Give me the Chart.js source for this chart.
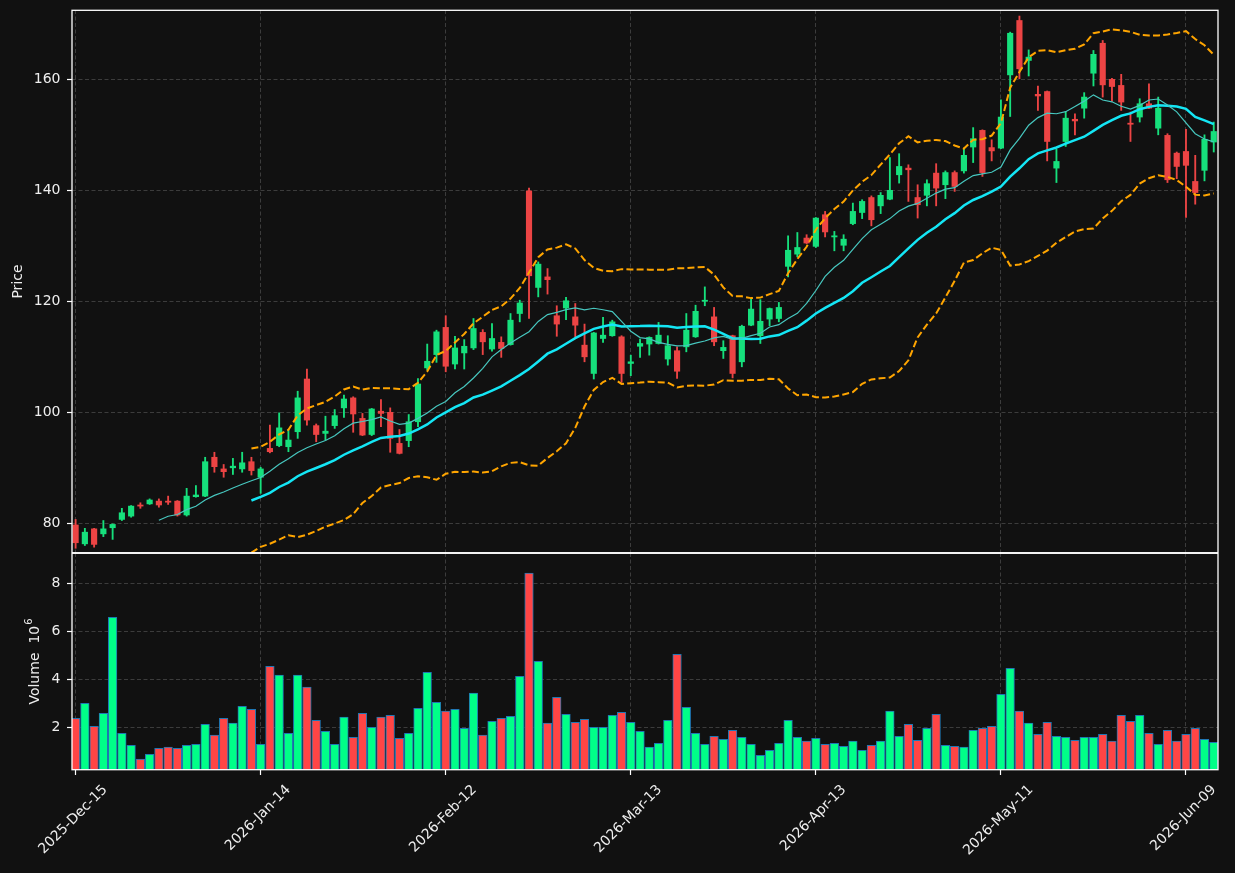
<!DOCTYPE html>
<html><head><meta charset="utf-8">
<script src="https://cdn.jsdelivr.net/npm/chart.js@4.4.1/dist/chart.umd.min.js"></script>
<style>
html,body{margin:0;padding:0;background:#111111;}
#wrap{position:relative;width:1235px;height:873px;background:#111111;overflow:hidden;}
#c1{position:absolute;left:0;top:0;}
#c2{position:absolute;left:0;top:553px;}
</style></head><body>
<div id="wrap"><canvas id="c1" width="1235" height="553"></canvas><canvas id="c2" width="1235" height="320"></canvas></div>
<script>
// ---- data ----
const startDate = '2025-12-15';
const holidays = ['2025-12-25','2026-01-01','2026-01-19','2026-02-16','2026-04-03','2026-05-25'];
const tickIdx = [0, 20, 40, 60, 80, 100, 120];
const tickLabels = ['2025-Dec-15','2026-Jan-14','2026-Feb-12','2026-Mar-13','2026-Apr-13','2026-May-11','2026-Jun-09'];
const priceTicks = [80, 100, 120, 140, 160];
const volTicks = [2, 4, 6, 8];

const open = [79.7,76.3,79.0,78.1,79.2,80.7,81.3,83.3,83.5,84.0,
84.0,84.0,81.5,84.8,84.9,91.9,89.8,90.0,89.8,91.1,
88.3,93.5,94.0,93.8,96.5,106.0,97.6,96.2,97.6,100.8,
102.6,98.9,96.0,100.2,100.0,94.4,94.9,98.3,108.0,110.4,
115.3,108.7,110.7,111.6,114.4,111.4,112.6,112.2,117.8,139.9,
122.5,124.4,117.4,118.8,117.2,112.1,107.0,113.3,113.8,113.6,
108.8,111.9,112.3,112.4,109.6,111.1,111.8,113.6,120.0,117.2,
111.1,113.8,109.1,115.7,113.8,116.8,116.9,126.3,128.5,131.4,
129.9,135.6,131.6,130.1,134.0,136.0,138.7,137.2,138.4,142.8,
144.0,138.7,139.1,143.1,141.0,143.2,143.5,147.8,150.8,147.7,
147.6,160.8,170.6,163.4,157.3,157.8,144.0,148.8,152.8,154.8,
161.1,166.5,160.0,158.9,152.1,153.2,155.6,151.2,149.9,146.7,
147.0,141.6,143.6,148.7];
const high = [80.7,79.1,79.1,80.5,79.9,82.7,83.2,83.7,84.4,84.4,
84.9,84.1,86.3,86.8,91.9,92.8,90.6,91.7,92.8,91.9,
90.1,97.7,99.9,96.9,103.8,107.8,97.9,99.3,100.5,103.1,
102.8,99.8,100.7,102.3,100.8,96.9,99.6,106.1,112.3,114.8,
117.4,113.7,113.1,116.9,114.9,116.0,113.6,117.8,120.2,140.4,
127.1,125.9,119.2,120.7,119.6,115.9,114.4,117.1,116.6,113.8,
110.3,113.2,113.6,116.2,113.8,111.8,117.8,119.3,122.6,118.9,
112.9,113.9,115.7,120.5,120.3,118.8,119.8,131.8,132.4,132.0,
135.1,136.2,132.6,132.0,137.7,138.3,139.0,139.6,145.9,146.6,
144.6,141.0,141.9,144.8,143.5,143.5,147.5,151.3,150.9,149.1,
156.3,168.5,171.4,165.3,158.8,157.9,147.4,154.2,153.8,157.6,
165.2,167.0,160.2,160.9,154.1,156.5,159.2,156.8,150.2,146.9,
151.0,146.3,150.0,152.3];
const low = [75.5,76.0,75.7,77.6,77.1,80.5,81.1,82.7,83.4,82.9,
83.4,81.3,81.3,84.7,84.8,89.2,88.3,88.8,89.2,88.7,
85.4,92.7,93.8,92.9,95.3,97.7,94.7,95.0,97.1,99.1,
96.4,95.8,95.8,97.4,92.8,92.5,93.8,97.4,107.6,109.0,
107.3,107.8,107.8,111.3,110.4,111.0,109.9,112.1,116.3,116.9,
120.8,121.3,113.7,116.7,113.6,109.1,106.0,112.6,113.7,105.4,
106.6,109.9,110.3,112.3,108.5,106.1,110.9,113.5,119.2,112.0,
109.7,106.2,108.2,115.6,112.4,115.6,116.3,124.4,128.0,130.4,
129.7,131.6,129.1,129.1,133.8,134.9,133.6,135.8,138.3,141.3,
138.0,135.0,137.2,137.2,138.5,139.8,143.1,145.0,142.5,145.3,
147.5,153.3,160.1,160.6,154.4,145.3,141.4,147.9,150.0,153.0,
158.8,156.8,156.0,154.4,148.8,152.3,154.7,150.0,141.4,142.1,
135.1,137.5,141.7,146.9];
const close = [76.5,78.4,76.2,79.0,79.8,81.9,83.1,83.1,84.2,83.3,
83.8,81.5,84.9,85.1,91.1,90.2,89.3,90.3,90.9,89.5,
89.8,92.9,97.2,95.0,102.6,98.6,96.0,96.6,99.4,102.4,
99.7,95.9,100.6,99.8,95.3,92.6,98.3,105.1,109.2,114.5,
108.3,111.6,111.9,115.1,112.7,113.3,111.5,116.6,119.7,124.6,
126.7,123.9,115.9,120.1,115.7,110.0,114.3,113.9,116.3,107.0,
109.1,112.4,113.5,113.9,112.0,107.4,114.8,118.2,120.2,112.7,
111.7,107.0,115.5,118.6,116.4,118.7,118.9,129.2,129.7,130.5,
135.0,132.5,131.8,131.2,136.2,138.0,134.7,139.1,140.0,144.3,
143.7,137.4,141.2,140.4,143.2,140.7,146.3,149.3,143.2,147.1,
153.2,168.3,161.9,164.0,157.0,148.8,145.2,153.0,152.5,156.8,
164.5,159.0,158.7,155.9,151.9,155.6,154.8,154.8,141.9,144.3,
144.5,139.6,149.2,150.6];
// volume in millions
const volume = [2.375,3.0,2.04,2.58,6.58,1.75,1.25,0.67,0.875,1.125,
1.17,1.125,1.25,1.29,2.125,1.67,2.375,2.17,2.875,2.75,
1.29,4.54,4.17,1.75,4.17,3.67,2.29,1.83,1.29,2.42,
1.58,2.58,2.0,2.42,2.5,1.54,1.75,2.79,4.29,3.04,
2.67,2.75,1.96,3.42,1.67,2.25,2.375,2.46,4.125,8.42,
4.75,2.17,3.25,2.54,2.21,2.33,2.0,2.0,2.5,2.625,
2.21,1.83,1.17,1.33,2.29,5.04,2.83,1.75,1.29,1.625,
1.5,1.875,1.58,1.29,0.83,1.04,1.33,2.29,1.58,1.42,
1.54,1.29,1.33,1.21,1.42,1.04,1.25,1.42,2.67,1.625,
2.125,1.46,1.96,2.54,1.25,1.21,1.17,1.875,1.96,2.04,
3.375,4.46,2.67,2.17,1.71,2.21,1.625,1.58,1.46,1.58,
1.58,1.71,1.42,2.5,2.25,2.5,1.75,1.29,1.875,1.42,
1.71,1.96,1.5,1.375];

// ---- trading-day categories ----
const MON = ['Jan','Feb','Mar','Apr','May','Jun','Jul','Aug','Sep','Oct','Nov','Dec'];
function buildDates(n){
  const out=[]; const d=new Date(startDate+'T00:00:00Z');
  while(out.length<n){
    const iso=d.toISOString().slice(0,10); const wd=d.getUTCDay();
    if(wd!==0&&wd!==6&&!holidays.includes(iso)){
      out.push(d.getUTCFullYear()+'-'+MON[d.getUTCMonth()]+'-'+String(d.getUTCDate()).padStart(2,'0'));
    }
    d.setUTCDate(d.getUTCDate()+1);
  }
  return out;
}
const N = close.length;
const dates = buildDates(N);
const idx = Array.from({length:N},(_,i)=>i);

// ---- indicators derived from the closes (as in the source chart) ----
function sma(arr,n){return arr.map((v,i)=> i<n-1?null: arr.slice(i-n+1,i+1).reduce((a,b)=>a+b,0)/n);}
function rstd(arr,n){return arr.map((v,i)=>{ if(i<n-1) return null; const s=arr.slice(i-n+1,i+1); const m=s.reduce((a,b)=>a+b,0)/n; return Math.sqrt(s.reduce((a,b)=>a+(b-m)*(b-m),0)/n);});}
const ma10 = sma(close,10);
const ma20 = sma(close,20);
const sd20 = rstd(close,20);
const upper = ma20.map((m,i)=> m===null?null: m+2*sd20[i]);
const lower = ma20.map((m,i)=> m===null?null: m-2*sd20[i]);

// ---- styling ----
const BG='#111111', GRID='#3c3c3c', TXT='#eeeeee';
const UPC='#16e07c', DNC='#ec4444', VUP='#00ff88', VDN='#ff4545';
const isUp = idx.map(i=> close[i]>=open[i]);
Chart.defaults.font.family = 'DejaVu Sans';
Chart.defaults.font.size = 14;
Chart.defaults.color = TXT;

const XMIN=-0.39, XMAX=123.46;

const framePlugin = {
  id:'frame',
  beforeDraw(chart){ const c=chart.ctx; c.save(); c.fillStyle=BG; c.fillRect(0,0,chart.width,chart.height); c.restore(); },
  afterDraw(chart){
    const a=chart.chartArea, c=chart.ctx;
    c.save(); c.strokeStyle='#ffffff'; c.lineWidth=1.3;
    c.strokeRect(a.left, a.top+0.3, a.right-a.left, a.bottom-a.top-0.6);
    c.restore();
  }
};

const xLabelPlugin = {
  id:'xlabels',
  afterDraw(chart){
    const c=chart.ctx, sx=chart.scales.x, a=chart.chartArea;
    c.save(); c.fillStyle=TXT; c.font='14px "DejaVu Sans"'; c.textAlign='center'; c.textBaseline='middle';
    tickIdx.forEach((v,k)=>{
      const lab=tickLabels[k]; const w=c.measureText(lab).width; const h=16;
      const side=(w+h)*Math.SQRT1_2;
      const x=sx.getPixelForValue(v)-2.5, y=a.bottom+10+side/2+2;
      c.save(); c.translate(x,y); c.rotate(-Math.PI/4); c.fillText(lab,0,0); c.restore();
    });
    // volume axis label with superscript exponent
    const main='Volume  10', sup='6';
    c.font='14px "DejaVu Sans"'; const w1=c.measureText(main).width;
    c.font='10px "DejaVu Sans"'; const w2=c.measureText(sup).width;
    const tot=w1+w2+1;
    c.save(); c.translate(35,(a.top+a.bottom)/2); c.rotate(-Math.PI/2);
    c.textAlign='left'; c.textBaseline='middle';
    c.font='14px "DejaVu Sans"'; c.fillText(main,-tot/2,0);
    c.font='10px "DejaVu Sans"'; c.fillText(sup,-tot/2+w1+1,-6);
    c.restore();
    c.restore();
  }
};

function noPad(s){ s.paddingTop=0; s.paddingBottom=0; s.paddingLeft=0; s.paddingRight=0; }

function yAxis(min,max,ticksArr,title,titlePad){
  return {
    type:'linear', position:'left', min:min, max:max,
    afterBuildTicks:(s)=>{ s.ticks = ticksArr.map(v=>({value:v})); },
    afterFit:(s)=>{ s.width = 72; noPad(s); },
    ticks:{color:TXT, padding:6.5, font:{size:14}},
    grid:{color:GRID, lineWidth:1, drawTicks:true, tickLength:5, tickColor:'#ffffff', tickWidth:1.2},
    border:{display:false, dash:[4,2.5]},
    title:{display:!!title, text:title||'', color:TXT, font:{size:14}, padding:{top:titlePad,bottom:0}}
  };
}

function xAxis(height, drawTicks){
  return {type:'linear', min:XMIN, max:XMAX, offset:false,
    afterBuildTicks:(s)=>{ s.ticks = tickIdx.map(v=>({value:v})); },
    afterFit:(s)=>{ s.height = height; noPad(s); },
    ticks:{display:false, callback:(v)=> dates[v]},
    grid:{color:GRID, offset:false, drawTicks:drawTicks, tickLength:5, tickColor:'#ffffff', tickWidth:1.2},
    border:{display:false, dash:[4,2.5]}};
}

// ---- price panel ----
new Chart(document.getElementById('c1'), {
  data:{
    datasets:[
      {type:'line', label:'MA10', data: idx.map(i=>({x:i,y:ma10[i]})), borderColor:'#47c7bf', borderWidth:1.2, pointRadius:0, tension:0, order:1},
      {type:'line', label:'MA20', data: idx.map(i=>({x:i,y:ma20[i]})), borderColor:'#14e6f5', borderWidth:2.5, pointRadius:0, tension:0, order:1},
      {type:'line', label:'Upper', data: idx.map(i=>({x:i,y:upper[i]})), borderColor:'#ffa500', borderWidth:2, borderDash:[7,3.2], pointRadius:0, tension:0, order:0},
      {type:'line', label:'Lower', data: idx.map(i=>({x:i,y:lower[i]})), borderColor:'#ffa500', borderWidth:2, borderDash:[7,3.2], pointRadius:0, tension:0, order:0},
      {type:'bar', label:'Body', data: idx.map(i=>({x:i,y:[open[i],close[i]]})), backgroundColor: isUp.map(u=>u?UPC:DNC), barThickness:5.5, grouped:false, minBarLength:1, order:2},
      {type:'bar', label:'Wick', data: idx.map(i=>({x:i,y:[low[i],high[i]]})), backgroundColor: isUp.map(u=>u?UPC:DNC), barThickness:1.2, grouped:false, order:3}
    ]
  },
  options:{
    responsive:false, animation:false, devicePixelRatio:1,
    layout:{padding:{top:10,right:17,left:0,bottom:0}},
    plugins:{legend:{display:false}, tooltip:{enabled:false}},
    scales:{
      x: xAxis(0, false),
      y: yAxis(74.65, 172.49, priceTicks, 'Price', 10)
    }
  },
  plugins:[framePlugin]
});

// ---- volume panel ----
new Chart(document.getElementById('c2'), {
  type:'bar',
  data:{
    datasets:[
      {label:'Volume', data: idx.map(i=>({x:i,y:volume[i]})), backgroundColor: isUp.map(u=>u?VUP:VDN), borderColor:'#1f77b4', borderWidth:1, borderSkipped:false, barThickness:8.6, grouped:false}
    ]
  },
  options:{
    responsive:false, animation:false, devicePixelRatio:1,
    layout:{padding:{top:0,right:17,left:0,bottom:0}},
    plugins:{legend:{display:false}, tooltip:{enabled:false}},
    scales:{
      x: xAxis(103, true),
      y: yAxis(0.22, 9.26, volTicks, null, 0)
    }
  },
  plugins:[framePlugin, xLabelPlugin]
});
</script>
</body></html>
